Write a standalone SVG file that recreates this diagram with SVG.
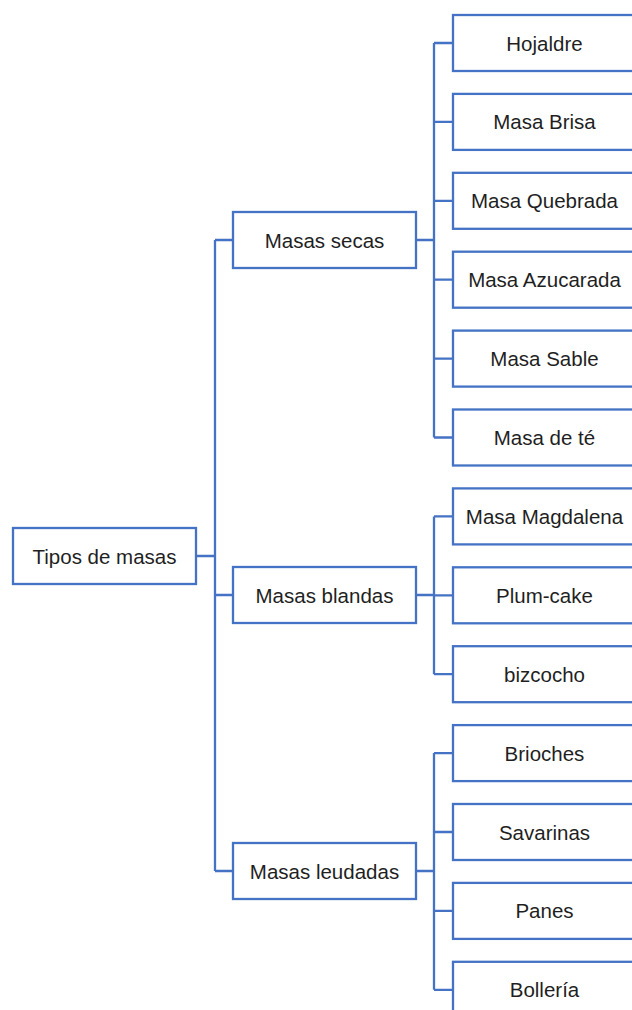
<svg xmlns="http://www.w3.org/2000/svg" width="632" height="1010" viewBox="0 0 632 1010">
<style>
.box{fill:#fff;stroke:#4472C4;stroke-width:2.3}
.ln{fill:none;stroke:#4472C4;stroke-width:2.3}
text{font-family:"Liberation Sans",Arial,sans-serif;font-size:20.5px;fill:#1f1f1f;text-anchor:middle}
</style>
<rect width="632" height="1010" fill="#fff"/>
<g id="connectors" class="ln">
<path d="M196 556H215M215 240V871M215 240H233M215 595H233M215 871H233"/>
<path d="M416 240H434M434 43V437.5M434 43H453M434 121.9H453M434 200.8H453M434 279.7H453M434 358.6H453M434 437.5H453"/>
<path d="M416 595H434M434 516.4V674.2M434 516.4H453M434 595.3H453M434 674.2H453"/>
<path d="M416 871H434M434 753.1V989.8M434 753.1H453M434 832H453M434 910.9H453M434 989.8H453"/>
</g>
<g id="root"><rect class="box" x="13" y="528" width="183" height="56"/><text x="104.5" y="563.5">Tipos de masas</text></g>
<g id="secas"><rect class="box" x="233" y="212" width="183" height="56"/><text x="324.5" y="247.5">Masas secas</text></g>
<g id="blandas"><rect class="box" x="233" y="567" width="183" height="56"/><text x="324.5" y="602.5">Masas blandas</text></g>
<g id="leudadas"><rect class="box" x="233" y="843" width="183" height="56"/><text x="324.5" y="878.5">Masas leudadas</text></g>
<g id="hojaldre"><rect class="box" x="453" y="15" width="183" height="56"/><text x="544.5" y="50.5">Hojaldre</text></g>
<g id="brisa"><rect class="box" x="453" y="93.9" width="183" height="56"/><text x="544.5" y="129.4">Masa Brisa</text></g>
<g id="quebrada"><rect class="box" x="453" y="172.8" width="183" height="56"/><text x="544.5" y="208.3">Masa Quebrada</text></g>
<g id="azucarada"><rect class="box" x="453" y="251.7" width="183" height="56"/><text x="544.5" y="287.2">Masa Azucarada</text></g>
<g id="sable"><rect class="box" x="453" y="330.6" width="183" height="56"/><text x="544.5" y="366.1">Masa Sable</text></g>
<g id="te"><rect class="box" x="453" y="409.5" width="183" height="56"/><text x="544.5" y="445">Masa de té</text></g>
<g id="magdalena"><rect class="box" x="453" y="488.4" width="183" height="56"/><text x="544.5" y="523.9">Masa Magdalena</text></g>
<g id="plumcake"><rect class="box" x="453" y="567.3" width="183" height="56"/><text x="544.5" y="602.8">Plum-cake</text></g>
<g id="bizcocho"><rect class="box" x="453" y="646.2" width="183" height="56"/><text x="544.5" y="681.7">bizcocho</text></g>
<g id="brioches"><rect class="box" x="453" y="725.1" width="183" height="56"/><text x="544.5" y="760.6">Brioches</text></g>
<g id="savarinas"><rect class="box" x="453" y="804" width="183" height="56"/><text x="544.5" y="839.5">Savarinas</text></g>
<g id="panes"><rect class="box" x="453" y="882.9" width="183" height="56"/><text x="544.5" y="918.4">Panes</text></g>
<g id="bolleria"><rect class="box" x="453" y="961.8" width="183" height="56"/><text x="544.5" y="997.3">Bollería</text></g>
</svg>
